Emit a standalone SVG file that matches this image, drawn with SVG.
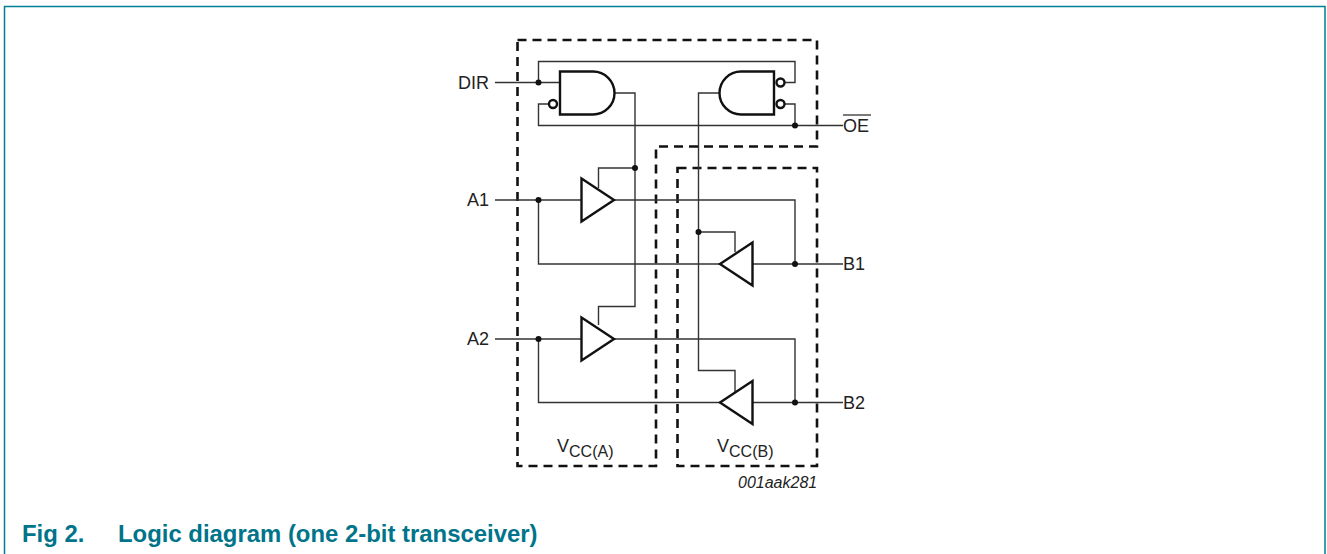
<svg xmlns="http://www.w3.org/2000/svg" width="1327" height="554" viewBox="0 0 1327 554">
<style>
text{font-family:"Liberation Sans",Arial,sans-serif;fill:#222}
.lb{font-size:18px}
.sub{font-size:16px}
.w{fill:none;stroke:#333;stroke-width:1.4}
.g{fill:#fff;stroke:#111;stroke-width:2.4;stroke-linejoin:miter}
.dash{fill:none;stroke:#111;stroke-width:2.6;stroke-dasharray:9 6}
.cap{font-size:23.900px;font-weight:bold;fill:#00748a}
</style>
<rect width="1327" height="554" fill="#fff"/>
<path d="M4.5 554V6.5H1325V554" fill="none" stroke="#007f94" stroke-width="1.5"/>
<g id="domains">
<path class="dash" d="M517.5 40H817V146.5H656V466H517.5Z"/>
<path class="dash" d="M677.5 168H817V466H677.5Z"/>
</g>
<g id="connectors">
<path class="w" d="M495 82.5H560M538.5 82.5V61.5H795V82.5H785"/>
<path class="w" d="M549 104H538.5V125.5H843M795 125.5V104H785"/>
<path class="w" d="M614 93H635V306.500H598.500V325M635 168H598.500V188"/>
<path class="w" d="M720 93H698.500V370.500H735V392M698.500 232H735V252"/>
<path class="w" d="M495 200H582M614 200H795V264M843 264H752M720 264H538.500V200"/>
<path class="w" d="M495 339H582M614 339H795V402.500M843 402.500H752M720 402.500H538.500V339"/>
<g fill="#111">
<circle cx="538.500" cy="82.500" r="3"/><circle cx="795" cy="125.500" r="3"/><circle cx="635" cy="168" r="3"/>
<circle cx="538.500" cy="200" r="3"/><circle cx="698.500" cy="232" r="3"/><circle cx="795" cy="264" r="3"/>
<circle cx="538.500" cy="339" r="3"/><circle cx="795" cy="402.500" r="3"/>
</g>
</g>
<g id="gate-left">
<path class="g" d="M560 71.500H593A21.500 21.500 0 0 1 593 114.500H560Z"/>
<circle class="g" cx="553" cy="104" r="4" stroke-width="2"/>
</g>
<g id="gate-right">
<path class="g" d="M774 71.500H741A21.500 21.500 0 0 0 741 114.500H774Z"/>
<circle class="g" cx="780.500" cy="82.500" r="4" stroke-width="2"/>
<circle class="g" cx="780.500" cy="104" r="4" stroke-width="2"/>
</g>
<g id="buffer-a1"><path class="g" d="M581.500 178.500L614 200L581.500 221.500Z"/></g>
<g id="buffer-a2"><path class="g" d="M581.500 317.500L614 339L581.500 360.500Z"/></g>
<g id="buffer-b1"><path class="g" d="M752.500 242.500L720 264L752.500 285.500Z"/></g>
<g id="buffer-b2"><path class="g" d="M752.500 381L720 402.500L752.500 424Z"/></g>
<g id="labels">
<text class="lb" x="458" y="89">DIR</text>
<text class="lb" x="467" y="206">A1</text>
<text class="lb" x="467" y="345">A2</text>
<text class="lb" x="843" y="270">B1</text>
<text class="lb" x="843" y="408.500">B2</text>
<text class="lb" x="843" y="131.500">OE</text>
<path d="M843 115H871" stroke="#222" stroke-width="1.2"/>
<text class="lb" x="557" y="452">V<tspan class="sub" dy="5">CC(A)</tspan></text>
<text class="lb" x="717" y="452">V<tspan class="sub" dy="5">CC(B)</tspan></text>
<text x="738" y="488" font-size="16" font-style="italic">001aak281</text>
</g>
<g id="caption">
<text class="cap" x="22" y="541.500">Fig 2.</text>
<text class="cap" x="118" y="541.500">Logic diagram (one 2-bit transceiver)</text>
</g>
</svg>
